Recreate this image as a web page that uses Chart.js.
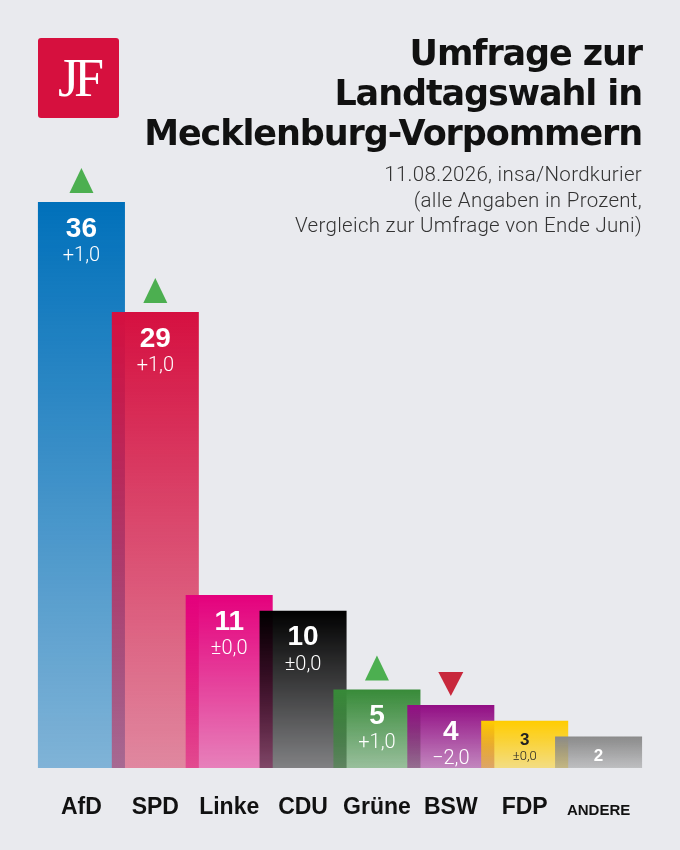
<!DOCTYPE html>
<html lang="de">
<head>
<meta charset="utf-8">
<title>Umfrage zur Landtagswahl in Mecklenburg-Vorpommern</title>
<script src="https://cdn.jsdelivr.net/npm/chart.js@4.4.1/dist/chart.umd.min.js"></script>
<style>
    html, body {
        margin: 0;
        padding: 0;
        background: #e9eaee;
    }
    #wrap {
        position: relative;
        width: 680px;
        height: 850px;
        overflow: hidden;
    }
    #chart {
        position: absolute;
        left: 0;
        top: 0;
    }
    #logo {
        position: absolute;
        left: 38px;
        top: 38px;
        width: 81px;
        height: 80px;
        background: #d6103e;
        border-radius: 3px;
        color: #fff;
        font-family: "Liberation Serif", "DejaVu Serif", serif;
        font-size: 54px;
        line-height: 80px;
        text-align: center;
        letter-spacing: -5px;
    }
    #title {
        position: absolute;
        right: 38px;
        top: 33px;
        text-align: right;
        font-family: "DejaVu Sans", "Liberation Sans", sans-serif;
        font-weight: bold;
        font-size: 35px;
        line-height: 40px;
        letter-spacing: -1.1px;
        color: #111;
    }
    #subtitle {
        position: absolute;
        right: 38px;
        top: 162px;
        text-align: right;
        font-family: Roboto, "Liberation Sans", sans-serif;
        font-weight: 300;
        font-size: 20.5px;
        line-height: 25.5px;
        letter-spacing: 0.3px;
        color: #333;
    }
</style>
</head>
<body>
<div id="wrap">
    <canvas id="chart" width="680" height="850"></canvas>
    <div id="logo">JF</div>
    <div id="title">Umfrage zur<br>Landtagswahl in<br>Mecklenburg-Vorpommern</div>
    <div id="subtitle">11.08.2026, insa/Nordkurier<br>(alle Angaben in Prozent,<br>Vergleich zur Umfrage von Ende Juni)</div>
</div>

<script>
/* Daten */
const categories = ["AfD", "SPD", "Linke", "CDU", "Grüne", "BSW", "FDP", "ANDERE"];
const values = [36, 29, 11, 10, 5, 4, 3, 2];
const changes = ["+1,0", "+1,0", "±0,0", "±0,0", "+1,0", "−2,0", "±0,0", ""];
const trends = [1, 1, 0, 0, 1, -1, 0, 0];
const barColors = ["#0070ba", "#d51040", "#e4007c", "#000000", "#378a38", "#920e84", "#ffcc00", "#8a8a8a"];

const FONT = '"Liberation Sans", Arial, sans-serif';

function hexToRgba(hex, a) {
    const n = parseInt(hex.slice(1), 16);
    return `rgba(${(n >> 16) & 255},${(n >> 8) & 255},${n & 255},${a})`;
}

// Verlauf: oben deckend, unten transparenter
function barGradient(context) {
    const chart = context.chart;
    const color = barColors[context.dataIndex];
    if (!chart.chartArea) {
        return color;
    }
    const yScale = chart.scales.y;
    const top = yScale.getPixelForValue(values[context.dataIndex]);
    const bottom = yScale.getPixelForValue(0);
    const g = chart.ctx.createLinearGradient(0, top, 0, bottom);
    g.addColorStop(0, hexToRgba(color, 1));
    g.addColorStop(1, hexToRgba(color, 0.45));
    return g;
}

const labelPlugin = {
    id: "barLabels",
    afterDatasetsDraw(chart) {
        const ctx = chart.ctx;
        const meta = chart.getDatasetMeta(0);

        ctx.save();
        ctx.textAlign = "center";
        ctx.textBaseline = "middle";

        meta.data.forEach((bar, i) => {
            const x = bar.x;
            const top = bar.y;

            if (i <= 5) {
                ctx.fillStyle = "#ffffff";
                ctx.font = `bold 28px ${FONT}`;
                ctx.fillText(String(values[i]), x, top + 27);
                ctx.font = `300 20px Roboto, ${FONT}`;
                ctx.fillText(changes[i], x, top + 54);
            } else if (i === 6) {
                ctx.fillStyle = "#222222";
                ctx.font = `bold 17px ${FONT}`;
                ctx.fillText(String(values[i]), x, top + 19);
                ctx.font = `300 13px Roboto, ${FONT}`;
                ctx.fillText(changes[i], x, top + 36);
            } else {
                ctx.fillStyle = "#ffffff";
                ctx.font = `bold 17px ${FONT}`;
                ctx.fillText(String(values[i]), x, top + 20);
            }

            // Trend-Dreiecke
            if (trends[i] !== 0) {
                ctx.beginPath();
                if (trends[i] > 0) {
                    ctx.fillStyle = "#4caf50";
                    ctx.moveTo(x, top - 34);
                    ctx.lineTo(x + 12, top - 9);
                    ctx.lineTo(x - 12, top - 9);
                } else {
                    ctx.fillStyle = "#c8283c";
                    ctx.moveTo(x - 12.5, top - 33);
                    ctx.lineTo(x + 12.5, top - 33);
                    ctx.lineTo(x, top - 9);
                }
                ctx.closePath();
                ctx.fill();
            }
        });

        ctx.restore();
    }
};

new Chart(document.getElementById("chart"), {
    type: "bar",
    data: {
        labels: categories,
        datasets: [
            {
                data: values,
                backgroundColor: barGradient,
                borderWidth: 0,
                barPercentage: 1.178,
                categoryPercentage: 1,
                clip: false
            }
        ]
    },
    options: {
        responsive: false,
        animation: false,
        devicePixelRatio: 1,
        layout: {
            padding: {
                top: 139,
                left: 44.5,
                right: 44.5,
                bottom: 0
            }
        },
        plugins: {
            legend: {
                display: false
            },
            tooltip: {
                enabled: false
            }
        },
        scales: {
            x: {
                border: {
                    display: false
                },
                grid: {
                    display: false,
                    drawTicks: false
                },
                ticks: {
                    color: "#111111",
                    padding: 26,
                    font: context => context.index === 7
                        ? { family: FONT, weight: "bold", size: 15, lineHeight: 2.2 }
                        : { family: FONT, weight: "bold", size: 23, lineHeight: 1.2 }
                },
                afterFit: scale => {
                    scale.height = 82;
                }
            },
            y: {
                display: false,
                min: 0,
                max: 40
            }
        }
    },
    plugins: [labelPlugin]
});
</script>
</body>
</html>
